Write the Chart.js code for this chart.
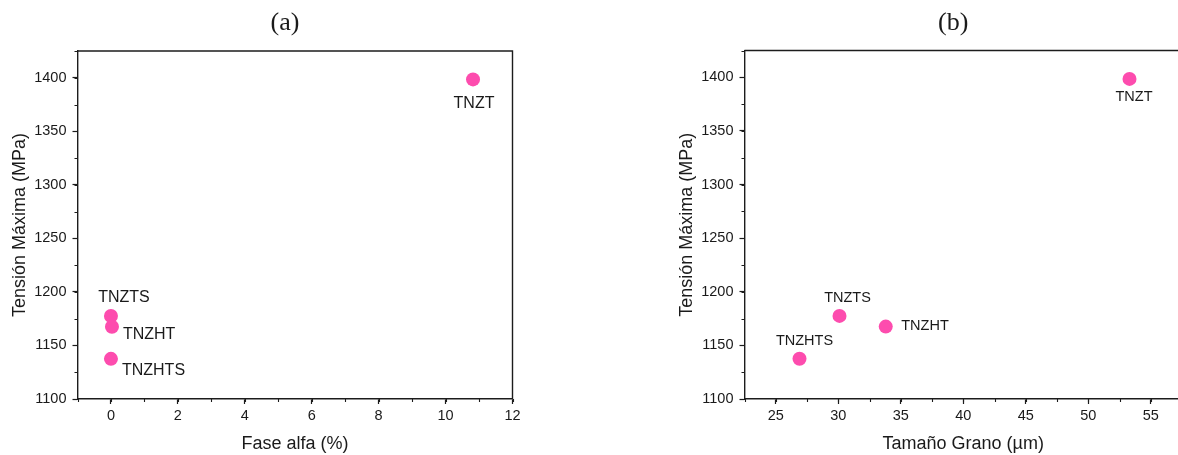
<!DOCTYPE html>
<html>
<head>
<meta charset="utf-8">
<script src="https://cdn.jsdelivr.net/npm/chart.js@4.4.1/dist/chart.umd.min.js"></script>
<style>
  html, body { margin: 0; padding: 0; background: #ffffff; overflow: hidden; }
  #wrap { position: relative; width: 1178px; height: 455px; overflow: hidden; background: #ffffff; }
  #panelA { position: absolute; left: 0; top: 0; }
  #panelB { position: absolute; left: 589px; top: 0; }
</style>
</head>
<body>
<div id="wrap">
  <canvas id="panelA" width="589" height="455"></canvas>
  <canvas id="panelB" width="600" height="455"></canvas>
</div>
<script>
// Sample names and measured values
const samples     = ['TNZT', 'TNZTS', 'TNZHT', 'TNZHTS'];
const maxStress   = [1398.5, 1177.5, 1167.5, 1137.5];   // MPa
const alphaPhase  = [10.82, 0, 0.03, 0];                 // %
const grainSize   = [53.3, 30.1, 33.8, 26.9];            // µm

// Major tick values
const stressTicks = [1100, 1150, 1200, 1250, 1300, 1350, 1400];
const alphaTicks  = [0, 2, 4, 6, 8, 10, 12];
const grainTicks  = [25, 30, 35, 40, 45, 50, 55];

const AXIS = '#1c1c1c';
const TEXT = '#1a1a1a';
const DOT  = '#fd4cae';
const SANS = '"Liberation Sans", Arial, sans-serif';

Chart.defaults.font.family = SANS;

// Frame, minor ticks, panel letter and sample labels
const decorations = {
  id: 'decorations',
  afterDraw(chart, args, opts) {
    const { ctx, chartArea: a, scales: { x, y } } = chart;
    ctx.save();
    ctx.strokeStyle = AXIS;
    ctx.lineWidth = 1.4;
    ctx.beginPath();
    ctx.moveTo(a.left, a.top);
    ctx.lineTo(a.right, a.top);
    ctx.lineTo(a.right, a.bottom);
    ctx.stroke();

    ctx.lineWidth = 1.1;
    ctx.beginPath();
    for (let v = x.min; v <= x.max + 1e-9; v += opts.xMinorStep) {
      const px = Math.round(x.getPixelForValue(v)) + 0.5;
      ctx.moveTo(px, a.bottom);
      ctx.lineTo(px, a.bottom + 3);
    }
    for (let v = y.min; v <= y.max + 1e-9; v += opts.yMinorStep) {
      const py = Math.round(y.getPixelForValue(v)) + 0.5;
      ctx.moveTo(a.left, py);
      ctx.lineTo(a.left - 3, py);
    }
    ctx.stroke();

    ctx.fillStyle = TEXT;
    ctx.font = '26px "Liberation Serif", "Times New Roman", serif';
    ctx.textAlign = 'center';
    ctx.textBaseline = 'middle';
    ctx.fillText(opts.letter, (a.left + a.right) / 2 - 10, 23);

    ctx.font = opts.labelSize + 'px ' + SANS;
    const meta = chart.getDatasetMeta(0);
    meta.data.forEach((pt, i) => {
      const o = opts.labelPlacement[i];
      ctx.textAlign = o.align;
      ctx.fillText(samples[i], pt.x + o.dx, pt.y + o.dy);
    });
    ctx.restore();
  }
};

function buildPanel(canvasId, xValues, xMin, xMax, xTickValues, xTitle, layoutPad, deco) {
  const points = xValues.map((v, i) => ({ x: v, y: maxStress[i] }));
  return new Chart(document.getElementById(canvasId), {
    type: 'scatter',
    data: {
      datasets: [{
        data: points,
        pointRadius: 7,
        pointBackgroundColor: DOT,
        pointBorderWidth: 0,
        pointBorderColor: DOT
      }]
    },
    options: {
      responsive: false,
      devicePixelRatio: 1,
      animation: false,
      events: [],
      layout: { padding: layoutPad },
      plugins: {
        legend: { display: false },
        tooltip: { enabled: false },
        decorations: deco
      },
      scales: {
        x: {
          type: 'linear',
          min: xMin,
          max: xMax,
          afterBuildTicks: s => { s.ticks = xTickValues.map(v => ({ value: v })); },
          afterFit: s => { s.height = 56; },
          grid: { drawOnChartArea: false, drawTicks: true, tickLength: 5, tickColor: AXIS, tickWidth: 1.2 },
          border: { display: true, color: AXIS, width: 1.4 },
          ticks: { color: TEXT, font: { size: 14.5 }, padding: 3, maxRotation: 0, autoSkip: false,
                   callback: v => String(v) },
          title: { display: true, text: xTitle, color: TEXT, font: { size: 18 }, padding: { top: 0, bottom: 0 } }
        },
        y: {
          type: 'linear',
          min: 1100,
          max: 1425,
          afterBuildTicks: s => { s.ticks = stressTicks.map(v => ({ value: v })); },
          afterFit: s => { s.width = 77.5; },
          grid: { drawOnChartArea: false, drawTicks: true, tickLength: 5, tickColor: AXIS, tickWidth: 1.2 },
          border: { display: true, color: AXIS, width: 1.4 },
          ticks: { color: TEXT, font: { size: 14.5 }, padding: 6, autoSkip: false,
                   callback: v => String(v) },
          title: { display: true, text: 'Tensión Máxima (MPa)', color: TEXT, font: { size: 18 }, padding: { top: 9, bottom: 0 } }
        }
      }
    },
    plugins: [decorations]
  });
}

buildPanel('panelA', alphaPhase, -1, 12, alphaTicks, 'Fase alfa (%)',
  { left: 0, right: 76.5, top: 51, bottom: 0 },
  {
    letter: '(a)', labelSize: 16, xMinorStep: 1, yMinorStep: 25,
    labelPlacement: [
      { align: 'center', dx: 1,  dy: 24 },
      { align: 'center', dx: 13, dy: -18 },
      { align: 'left',   dx: 11, dy: 8 },
      { align: 'left',   dx: 11, dy: 12 }
    ]
  });

buildPanel('panelB', grainSize, 22.5, 57.5, grainTicks, 'Tamaño Grano (µm)',
  { left: 78, right: 3.5, top: 50.5, bottom: 0 },
  {
    letter: '(b)', labelSize: 14.5, xMinorStep: 2.5, yMinorStep: 25,
    labelPlacement: [
      { align: 'center', dx: 4.5, dy: 18 },
      { align: 'center', dx: 8,   dy: -18 },
      { align: 'left',   dx: 15.5, dy: -1 },
      { align: 'center', dx: 5,   dy: -18 }
    ]
  });
</script>
</body>
</html>
